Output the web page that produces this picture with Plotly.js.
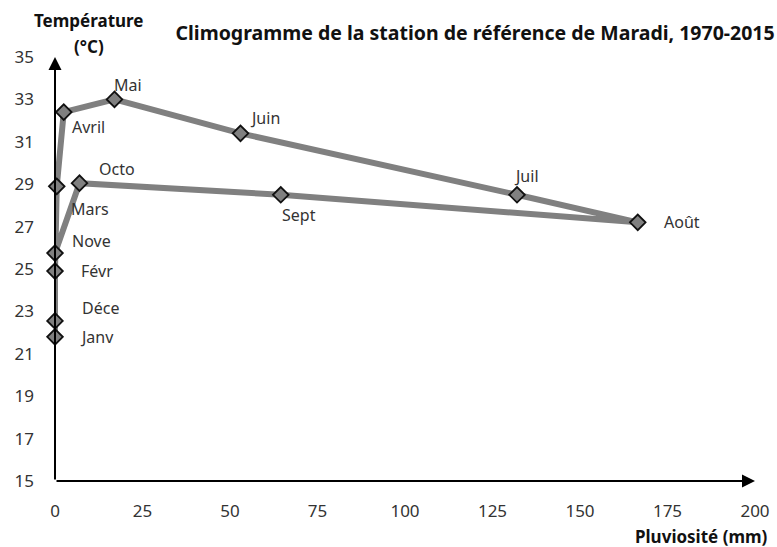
<!DOCTYPE html>
<html><head><meta charset="utf-8">
<script src="https://cdn.plot.ly/plotly-3.0.1.min.js"></script>
<style>html,body{margin:0;padding:0;background:#fff}#chart{width:777px;height:547px}</style>
</head><body><div id="chart"></div>
<script>
// Data
const months = ["Janv","Févr","Mars","Avril","Mai","Juin","Juil","Août","Sept","Octo","Nove","Déce"];
const rainfall = [0, 0, 0.5, 2.5, 17, 53, 132, 166.5, 64.5, 7, 0, 0];
const temperature = [21.8, 24.9, 28.9, 32.4, 33.0, 31.4, 28.5, 27.2, 28.5, 29.05, 25.75, 22.55];
const xTicks = [0, 25, 50, 75, 100, 125, 150, 175, 200];
const yTicks = [15, 17, 19, 21, 23, 25, 27, 29, 31, 33, 35];

// Label placement (pixel offsets, style only)
const labelShift = {
  "Janv":[42,0],"Févr":[42,0],"Mars":[33,-23],"Avril":[25,-15],"Mai":[13,14],
  "Juin":[24,15],"Juil":[9,19],"Août":[44,0],"Sept":[18,-20],"Octo":[37,14],
  "Nove":[36,12],"Déce":[45,13]
};

const font = "Noto Sans, Open Sans, sans-serif";
const textColor = "#333";

const trace = {
  x: rainfall, y: temperature, mode: "lines+markers", type: "scatter",
  line: {color: "#808080", width: 6},
  marker: {symbol: "diamond", size: 12, color: "#808080", line: {color: "#111", width: 1.8}},
  hoverinfo: "skip", showlegend: false, cliponaxis: false
};

const annotations = months.map((m, i) => ({
  x: rainfall[i], y: temperature[i], xref: "x", yref: "y", text: m, showarrow: false,
  xshift: labelShift[m][0], yshift: labelShift[m][1],
  font: {family: font, size: 16, color: textColor}
}));
// axis arrows
annotations.push({x: 200, y: 15, ax: 0, ay: 15, xref: "x", yref: "y", axref: "x", ayref: "y",
  showarrow: true, arrowhead: 2, arrowsize: 1.3, arrowwidth: 2, arrowcolor: "#000", text: ""});
annotations.push({x: 0, y: 35, ax: 0, ay: 15, xref: "x", yref: "y", axref: "x", ayref: "y",
  showarrow: true, arrowhead: 2, arrowsize: 1.3, arrowwidth: 2, arrowcolor: "#000", text: ""});
// axis titles
const titleFont = {family: font, size: 17, color: "#111", weight: "bold"};
annotations.push({xref: "paper", yref: "paper", x: 0.049, y: 1.0, yanchor: "middle", xanchor: "center",
  yshift: 37, text: "<b>Température</b>", showarrow: false, font: titleFont});
annotations.push({xref: "paper", yref: "paper", x: 0.049, y: 1.0, yanchor: "middle", xanchor: "center",
  yshift: 11, text: "<b>(°C)</b>", showarrow: false, font: titleFont});
annotations.push({xref: "paper", yref: "paper", x: 1.0, xshift: 15, y: 0, yanchor: "top", xanchor: "right",
  yshift: -42, text: "<b>Pluviosité (mm)</b>", showarrow: false, font: titleFont});

const layout = {
  width: 777, height: 547,
  margin: {l: 55, r: 22, t: 57, b: 66},
  paper_bgcolor: "#fff", plot_bgcolor: "#fff",
  title: {text: "<b>Climogramme de la station de référence de Maradi, 1970-2015</b>",
    x: 0.997, xanchor: "right", y: 0.94, yanchor: "middle", xref: "container",
    font: {family: font, size: 19.5, color: "#111"}},
  xaxis: {range: [0, 200], tickvals: xTicks, ticktext: xTicks.map(String), showgrid: false, zeroline: false,
    showline: false, ticks: "", ticklabelstandoff: 18,
    tickfont: {family: font, size: 17, color: textColor}},
  yaxis: {range: [15, 35], tickvals: yTicks, ticktext: yTicks.map(String), showgrid: false, zeroline: false,
    showline: false, ticks: "", ticklabelstandoff: 20,
    tickfont: {family: font, size: 17, color: textColor}},
  annotations: annotations
};

Plotly.newPlot("chart", [trace], layout, {displayModeBar: false, staticPlot: true});
</script></body></html>
